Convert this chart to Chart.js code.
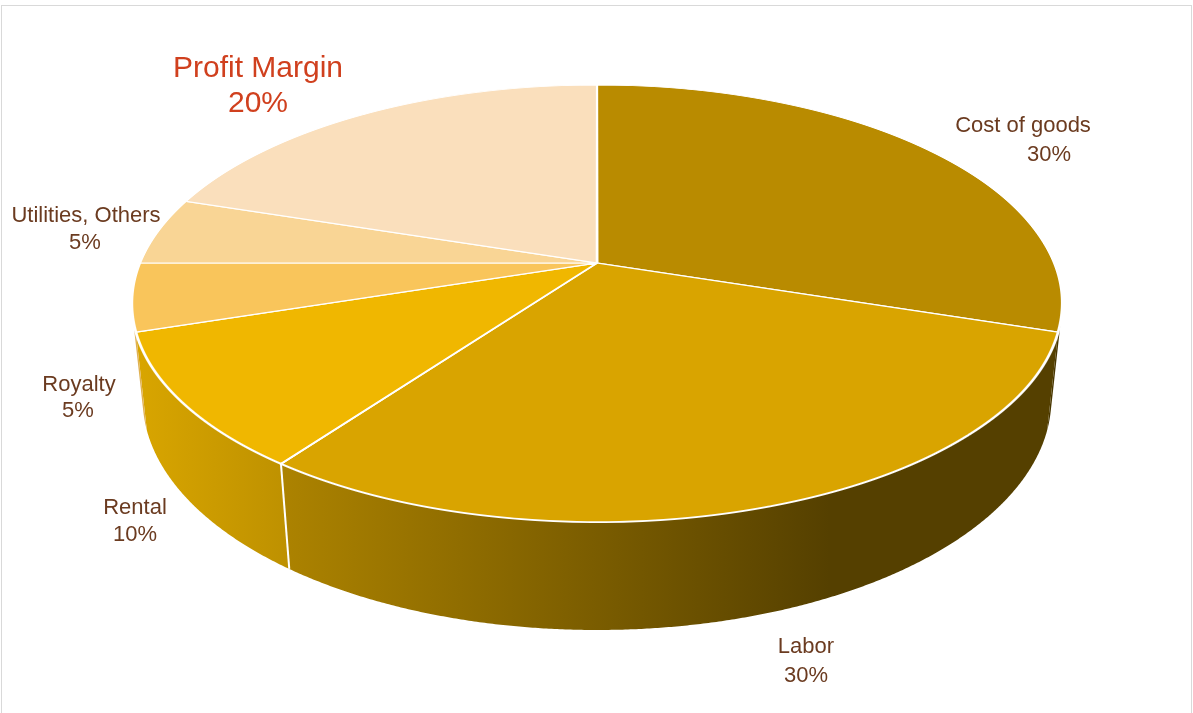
<!DOCTYPE html>
<html>
<head>
<meta charset="utf-8">
<script src="https://cdn.jsdelivr.net/npm/chart.js@4.4.0/dist/chart.umd.min.js"></script>
<style>
  html, body { margin: 0; padding: 0; background: #fff; }
  #pie { display: block; }
</style>
</head>
<body>
<canvas id="pie" width="1193" height="713"></canvas>
<script>
// data
const categories = ['Cost of goods', 'Labor', 'Rental', 'Royalty', 'Utilities, Others', 'Profit Margin'];
const shares = [30, 30, 10, 5, 5, 20];
const sliceColors = ['#B98B00', '#D9A400', '#F0B700', '#F9C55B', '#F9D595', '#FADFBC'];

// where the data labels sit (centre of first line, centre of second line)
const labelSpots = [
  [[1023, 126], [1049, 155]],
  [[806, 647], [806, 676]],
  [[135, 508], [135, 535]],
  [[79, 385], [78, 411]],
  [[86, 216], [85, 243]],
  [[258, 69], [258, 104]]
];

// camera used for the tilted 3d look, fitted by eye
const cam = { cx: 597, cy: 263, F: 2188, D: 4.787, sin: 0.4617, depth: 0.2377 };
cam.cos = Math.sqrt(1 - cam.sin * cam.sin);

function project(X, W, Z) {
  const dep = cam.D + W * cam.cos - Z * cam.sin;
  return [cam.cx + cam.F * X / dep, cam.cy - cam.F * (W * cam.sin + Z * cam.cos) / dep];
}

function shade(hex, f) {
  const n = parseInt(hex.slice(1), 16);
  const r = Math.round(((n >> 16) & 255) * f);
  const g = Math.round(((n >> 8) & 255) * f);
  const b = Math.round((n & 255) * f);
  return 'rgb(' + r + ',' + g + ',' + b + ')';
}

function drawWalls(ctx, arcs) {
  const lim = Math.acos(-1 / (cam.D * cam.cos)); // front part of the rim that faces us
  arcs.forEach(function (arc, i) {
    const t0 = Math.max(arc.startAngle + Math.PI / 2, lim);
    const t1 = Math.min(arc.endAngle + Math.PI / 2, 2 * Math.PI - lim);
    if (t1 <= t0) return;
    const steps = Math.ceil((t1 - t0) / 0.005);
    ctx.beginPath();
    for (let k = 0; k <= steps; k++) {
      const t = t0 + (t1 - t0) * k / steps;
      const p = project(Math.sin(t), Math.cos(t), 0);
      if (k === 0) ctx.moveTo(p[0], p[1]); else ctx.lineTo(p[0], p[1]);
    }
    for (let k = steps; k >= 0; k--) {
      const t = t0 + (t1 - t0) * k / steps;
      const p = project(Math.sin(t), Math.cos(t), -cam.depth);
      ctx.lineTo(p[0], p[1]);
    }
    ctx.closePath();
    const grad = ctx.createLinearGradient(140, 0, 830, 0);
    grad.addColorStop(0, shade(arc.options.backgroundColor, 0.9));
    grad.addColorStop(1, shade(arc.options.backgroundColor, 0.39));
    ctx.fillStyle = grad;
    ctx.fill();
  });
  // white seams between slices on the rim
  arcs.forEach(function (arc) {
    const t = arc.startAngle + Math.PI / 2;
    if (t < lim + 0.1 || t > 2 * Math.PI - lim - 0.1) return;
    const a = project(Math.sin(t), Math.cos(t), 0);
    const b = project(Math.sin(t), Math.cos(t), -cam.depth);
    ctx.beginPath();
    ctx.moveTo(a[0], a[1]);
    ctx.lineTo(b[0], b[1]);
    ctx.strokeStyle = '#ffffff';
    ctx.lineWidth = 2;
    ctx.stroke();
  });
}

// top face: chart.js arcs drawn row by row, each row with its own scale
function drawTop(ctx, arcs) {
  const ox = arcs[0].x, oy = arcs[0].y, R = arcs[0].outerRadius;
  const yStart = Math.floor(project(0, 1.03, 0)[1]);
  const yEnd = Math.ceil(project(0, -1.03, 0)[1]);
  for (let y = yStart; y < yEnd; y++) {
    const tt = cam.cy - (y + 0.5);
    const wm = tt * cam.D / (cam.F * cam.sin - tt * cam.cos);
    const dep = cam.D + wm * cam.cos;
    const sx = cam.F / dep;
    const Ym = cam.cy - cam.F * cam.sin * wm / dep;
    const dY = -cam.F * cam.sin * cam.D / (dep * dep);
    ctx.save();
    ctx.setTransform(1, 0, 0, 1, 0, 0);
    ctx.beginPath();
    ctx.rect(0, y, ctx.canvas.width, 1);
    ctx.clip();
    ctx.setTransform(sx / R, 0, 0, -dY / R, cam.cx - sx * ox / R, Ym + dY * (oy / R - wm));
    arcs.forEach(function (a) { a.draw(ctx); });
    ctx.restore();
  }
}

const tiltedPie = {
  id: 'tiltedPie',
  beforeDraw(chart) {
    const ctx = chart.ctx;
    ctx.save();
    ctx.strokeStyle = '#D9D9D9';
    ctx.lineWidth = 1;
    ctx.strokeRect(1.5, 5.5, 1190, 800);
    ctx.restore();
  },
  beforeDatasetsDraw(chart) {
    const ctx = chart.ctx;
    const arcs = chart.getDatasetMeta(0).data;
    ctx.save();
    drawWalls(ctx, arcs);
    drawTop(ctx, arcs);
    ctx.restore();
    return false;
  },
  afterDraw(chart) {
    const ctx = chart.ctx;
    ctx.save();
    ctx.textAlign = 'center';
    ctx.textBaseline = 'middle';
    categories.forEach(function (name, i) {
      const big = name === 'Profit Margin';
      ctx.fillStyle = big ? '#D0401E' : '#6B3B20';
      ctx.font = (big ? '30px' : '22px') + ' "Liberation Sans", Arial, sans-serif';
      const spot = labelSpots[i];
      ctx.fillText(name, spot[0][0], spot[0][1]);
      ctx.fillText(shares[i] + '%', spot[1][0], spot[1][1]);
    });
    ctx.restore();
  }
};

new Chart(document.getElementById('pie'), {
  type: 'pie',
  data: {
    labels: categories,
    datasets: [{
      data: shares,
      backgroundColor: sliceColors,
      borderColor: '#ffffff',
      borderWidth: 2
    }]
  },
  options: {
    responsive: false,
    animation: false,
    devicePixelRatio: 1,
    rotation: 0,
    events: [],
    plugins: {
      legend: { display: false },
      tooltip: { enabled: false }
    }
  },
  plugins: [tiltedPie]
});
</script>
</body>
</html>
